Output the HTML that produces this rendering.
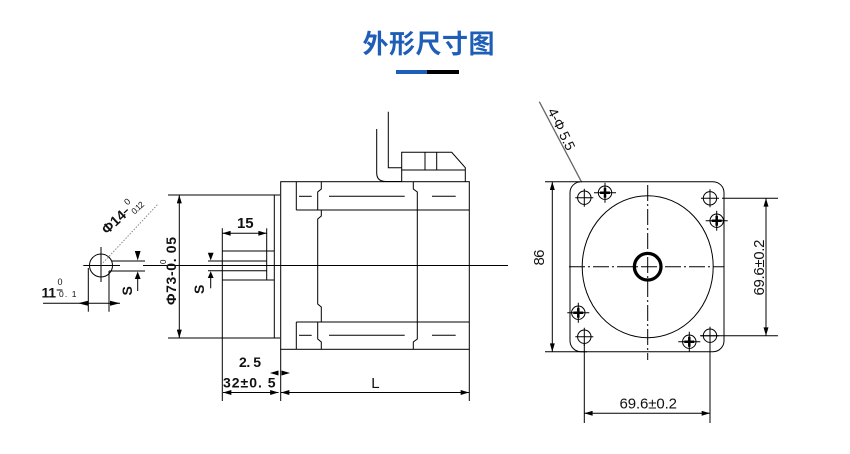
<!DOCTYPE html>
<html><head><meta charset="utf-8"><style>
html,body{margin:0;padding:0;background:#fff;}
svg{display:block;}
text{font-family:"Liberation Sans","Noto Sans CJK SC",sans-serif;fill:#111;}
.b{font-weight:bold;}
</style></head><body>
<svg width="850" height="454" viewBox="0 0 850 454" xmlns="http://www.w3.org/2000/svg">
<defs>
<marker id="ar" viewBox="0 0 10 6" refX="10" refY="3" markerWidth="9" markerHeight="5" markerUnits="userSpaceOnUse" orient="auto-start-reverse"><path d="M0,0L10,3L0,6z" fill="#000"/></marker>
</defs>
<rect width="850" height="454" fill="#fff"/>
<!-- Title -->
<text x="428.5" y="53" font-size="26" font-weight="bold" text-anchor="middle" style="font-family:'Noto Sans CJK SC',sans-serif;fill:#1e5eb6" textLength="132">外形尺寸图</text>
<rect x="396" y="70" width="31" height="4" fill="#1e5eb6"/>
<rect x="427" y="70" width="32" height="4" fill="#000"/>

<g stroke="#000" stroke-width="1" fill="none">
<circle cx="101" cy="265.5" r="11.5"/>
<line x1="83.3" y1="265.5" x2="120" y2="265.5"/>
<line x1="101" y1="247" x2="101" y2="282"/>
<line x1="111.6" y1="261" x2="145" y2="261"/>
<line x1="109" y1="271" x2="145" y2="271"/>
<line x1="109" y1="271" x2="109" y2="311.7"/>
<line x1="88.3" y1="268" x2="88.3" y2="311.7"/>
<line x1="43" y1="303.3" x2="120" y2="303.3"/>
<line x1="137.7" y1="279" x2="137.7" y2="291"/>
<line x1="56.7" y1="290" x2="62.5" y2="290"/>
<line x1="143" y1="265.5" x2="508" y2="265.5"/>
<line x1="168" y1="195" x2="280" y2="195"/>
<line x1="168" y1="338" x2="280" y2="338"/>
<line x1="274.3" y1="195" x2="274.3" y2="338"/>
<line x1="179.3" y1="195" x2="179.3" y2="338" marker-start="url(#ar)" marker-end="url(#ar)"/>
<line x1="222.3" y1="251" x2="274.3" y2="251"/>
<line x1="222.3" y1="280" x2="274.3" y2="280"/>
<line x1="208" y1="261" x2="266.7" y2="261"/>
<line x1="208" y1="270.7" x2="266.7" y2="270.7"/>
<line x1="266.7" y1="228.3" x2="266.7" y2="280"/>
<line x1="222.3" y1="228.3" x2="222.3" y2="401"/>
<line x1="222.3" y1="233.3" x2="266.7" y2="233.3" marker-start="url(#ar)" marker-end="url(#ar)"/>
<line x1="210.7" y1="278" x2="210.7" y2="288.3"/>
<rect x="280.7" y="181.7" width="188.6" height="167.6"/>
<line x1="280.7" y1="349.3" x2="280.7" y2="401"/>
<line x1="469.3" y1="349.3" x2="469.3" y2="401"/>
<line x1="296.3" y1="210" x2="469.3" y2="210"/>
<line x1="296.3" y1="181.7" x2="296.3" y2="210"/>
<line x1="296.3" y1="322" x2="469.3" y2="322"/>
<line x1="296.3" y1="322" x2="296.3" y2="349.3"/>
<path d="M321.3,181.7V189L317.7,192V210M321.3,210V216L317.7,219V304L321.3,307V322M317.7,322V339L321.3,342V349.3"/>
<path d="M413.3,181.7V189L417.3,192V339L413.3,342V349.3"/>
<line x1="299" y1="196.3" x2="311.7" y2="196.3"/>
<line x1="329" y1="196.3" x2="404.7" y2="196.3"/>
<line x1="432" y1="196.3" x2="455.7" y2="196.3"/>
<line x1="299" y1="335.3" x2="311.7" y2="335.3"/>
<line x1="329" y1="335.3" x2="404.7" y2="335.3"/>
<line x1="432" y1="335.3" x2="455.7" y2="335.3"/>
<path d="M376.7,129V173Q376.7,181.5 386,181.5H401.7"/>
<path d="M388.3,111.7V167.7H401.7"/>
<path d="M401.7,181.7V152.3H451.7L465.3,167.7V181.7"/>
<line x1="401.7" y1="170" x2="465.3" y2="170"/>
<line x1="425" y1="152.3" x2="425" y2="170"/>
<line x1="436.7" y1="152.3" x2="436.7" y2="170"/>
<line x1="223" y1="392.5" x2="278.5" y2="392.5" marker-start="url(#ar)" marker-end="url(#ar)"/>
<line x1="281" y1="392.5" x2="469" y2="392.5" marker-start="url(#ar)" marker-end="url(#ar)"/>
</g>
<g fill="#000">
<polygon points="78,303.3 88,300.8 88,305.8"/>
<polygon points="120,303.3 110,300.8 110,305.8"/>
<polygon points="134.8,251 140.6,251 137.7,260.5"/>
<polygon points="134.8,279 140.6,279 137.7,271.5"/>
<polygon points="207.8,252.7 213.6,252.7 210.7,260.5"/>
<polygon points="207.8,278 213.6,278 210.7,271.2"/>
<polygon points="270,373 278.5,370.5 278.5,375.5"/>
<polygon points="290,373 281.5,370.5 281.5,375.5"/>
</g>
<line x1="101" y1="265" x2="158" y2="204" stroke="#888" stroke-width="1" stroke-dasharray="1.5 1.5"/>
<line x1="539.3" y1="101.7" x2="581.7" y2="182.3" stroke="#666" stroke-width="1.3"/>

<g stroke="#000" stroke-width="1" fill="none">
<rect x="570" y="181.7" width="154" height="170" rx="11"/>
<ellipse cx="647.7" cy="266.7" rx="65.5" ry="71"/>
<circle cx="647.7" cy="266.7" r="13.3" stroke-width="3.3"/>
<line x1="569" y1="266.7" x2="724" y2="266.7" stroke-dasharray="16 3 2 3"/>
<line x1="647.7" y1="185" x2="647.7" y2="360" stroke-dasharray="16 3 2 3"/>
<g>
<circle cx="584.3" cy="197.7" r="6.7"/><path d="M575.3,197.7H593.3M584.3,188.7V206.7"/>
<circle cx="710" cy="198.3" r="6.7"/><path d="M701,198.3H719M710,189.3V207.3"/>
<circle cx="584.3" cy="336.7" r="6.7"/><path d="M575.3,336.7H593.3M584.3,327.7V345.7"/>
<circle cx="710" cy="335.7" r="6.7"/><path d="M701,335.7H719M710,326.7V344.7"/>
</g>
<g>
<circle cx="605" cy="192.7" r="6.7"/><path d="M594,192.7H616M605,182.7V202.7"/><path d="M600,192.7H610M605,187.7V197.7" stroke-width="2.5"/>
<circle cx="716.7" cy="220.7" r="6.7"/><path d="M705.7,220.7H727.7M716.7,210.7V230.7"/><path d="M711.7,220.7H721.7M716.7,215.7V225.7" stroke-width="2.5"/>
<circle cx="578.3" cy="312.7" r="6.7"/><path d="M567.3,312.7H589.3M578.3,302.7V322.7"/><path d="M573.3,312.7H583.3M578.3,307.7V317.7" stroke-width="2.5"/>
<circle cx="689.3" cy="341.7" r="6.7"/><path d="M678.3,341.7H700.3M689.3,331.7V351.7"/><path d="M684.3,341.7H694.3M689.3,336.7V346.7" stroke-width="2.5"/>
</g>
<line x1="545" y1="181.7" x2="580" y2="181.7"/>
<line x1="545" y1="351.7" x2="587" y2="351.7"/>
<line x1="552.3" y1="181.7" x2="552.3" y2="351.7" marker-start="url(#ar)" marker-end="url(#ar)"/>
<line x1="722" y1="198.3" x2="778" y2="198.3"/>
<line x1="700" y1="335.7" x2="778" y2="335.7"/>
<line x1="766" y1="198.3" x2="766" y2="335.7" marker-start="url(#ar)" marker-end="url(#ar)"/>
<line x1="584.3" y1="343" x2="584.3" y2="423"/>
<line x1="710" y1="343" x2="710" y2="423"/>
<line x1="584.3" y1="413.3" x2="710" y2="413.3" marker-start="url(#ar)" marker-end="url(#ar)"/>
</g>

<text class="b" x="245.3" y="228" font-size="15" text-anchor="middle">15</text>
<text x="371.3" y="388" font-size="15" textLength="10">L</text>
<text class="b" x="239" y="367" font-size="14" textLength="22">2. 5</text>
<text class="b" x="223" y="387.5" font-size="14" textLength="52.5">32±0. 5</text>
<g transform="translate(176,305) rotate(-90)">
<text class="b" x="0" y="0" font-size="14" textLength="68">Φ73-0. 05</text>
<text x="41" y="-10" font-size="8">0</text>
</g>
<text class="b" transform="translate(203.8,294) rotate(-90)" font-size="14">S</text>
<text class="b" transform="translate(132,295.5) rotate(-90)" font-size="14">S</text>
<text class="b" x="41.5" y="297.5" font-size="14" textLength="14.5">11</text>
<text x="60" y="285" font-size="9" text-anchor="middle">0</text>
<text x="59" y="297" font-size="8.5" textLength="17.5">0. 1</text>
<g transform="translate(107,235) rotate(-43)">
<text class="b" x="0" y="0" font-size="14" textLength="27.5">Φ14</text>
<line x1="27.5" y1="-4.5" x2="32.5" y2="-4.5" stroke="#000" stroke-width="1.2"/>
<text x="35" y="-7.5" font-size="9">0</text>
<text x="34" y="4" font-size="8.5" textLength="14">0.12</text>
</g>
<text transform="translate(544,265.5) rotate(-90)" font-size="15" textLength="16">86</text>
<text transform="translate(764,295.5) rotate(-90)" font-size="15" textLength="56">69.6±0.2</text>
<text x="619.5" y="408.5" font-size="15" textLength="57.5">69.6±0.2</text>
<text transform="translate(547.3,111) rotate(64)" font-size="14" textLength="45">4-Φ 5.5</text>
</svg>
</body></html>
